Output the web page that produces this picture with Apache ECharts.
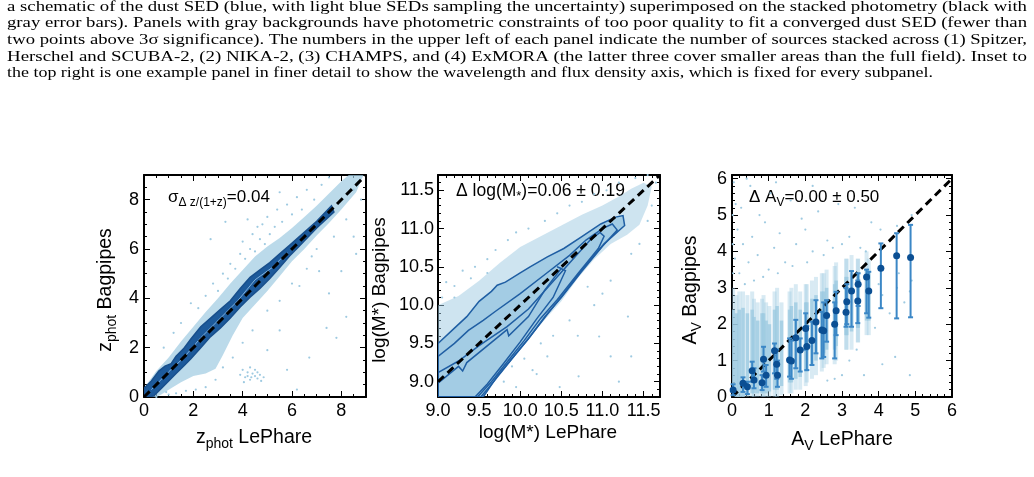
<!DOCTYPE html>
<html>
<head>
<meta charset="utf-8">
<script src="https://cdn.jsdelivr.net/npm/echarts@6/dist/echarts.min.js"></script>
<style>
  html, body { margin: 0; padding: 0; background: #fff; }
  #main { width: 1034px; height: 477px; }
</style>
</head>
<body>
<div id="main"></div>
<script>
// caption lines shown above the figure
var captionLines = [
  'a schematic of the dust SED (blue, with light blue SEDs sampling the uncertainty) superimposed on the stacked photometry (black with',
  'gray error bars). Panels with gray backgrounds have photometric constraints of too poor quality to fit a converged dust SED (fewer than',
  'two points above 3σ significance). The numbers in the upper left of each panel indicate the number of sources stacked across (1) Spitzer,',
  'Herschel and SCUBA-2, (2) NIKA-2, (3) CHAMPS, and (4) ExMORA (the latter three cover smaller areas than the full field). Inset to',
  'the top right is one example panel in finer detail to show the wavelength and flux density axis, which is fixed for every subpanel.'
]

// ---- panel 1 : z_phot ----
var zDiag = [[0, 0], [9, 9]]
// outline of the dense light blue cloud
var zCloud = [
  [0, 0], [0, 0.35], [0.5, 1.05], [1, 1.6], [1.5, 2.25], [2, 2.85], [2.5, 3.45], [3, 4.0], [3.5, 4.6],
  [4, 5.15], [4.5, 5.7], [5, 6.1], [5.5, 6.45], [6, 6.85], [6.5, 7.3], [7, 7.75], [7.5, 8.25], [8, 8.75],
  [8.3, 9], [8.9, 9], [8.6, 8.3], [8, 7.6], [7.5, 7.05], [7, 6.55], [6.5, 6.0], [6, 5.5], [5.5, 4.9],
  [5, 4.3], [4.5, 3.75], [4, 3.2], [3.6, 2.5], [3.2, 1.7], [2.9, 1.15], [2.5, 0.95], [2, 0.85],
  [1.5, 0.6], [1.1, 0.35], [0.7, 0.1], [0.5, 0]
]
// dark contour band
var zBandTop = [
  [0, 0.35], [0.3, 0.65], [0.6, 1.05], [0.85, 1.25], [1.1, 1.35], [1.3, 1.65], [1.6, 1.95], [1.9, 2.35],
  [2.3, 2.85], [2.7, 3.2], [3.1, 3.55], [3.5, 3.9], [3.9, 4.4], [4.3, 4.85], [4.7, 5.15], [5.1, 5.45],
  [5.5, 5.8], [5.9, 6.15], [6.3, 6.5], [7.0, 7.12], [7.6, 7.75]
]
var zBandBottom = [
  [7.7, 7.5], [7.0, 6.85], [6.3, 6.12], [5.9, 5.72], [5.5, 5.25], [5.1, 4.8], [4.7, 4.4], [4.3, 4.05],
  [3.9, 3.65], [3.5, 3.2], [3.1, 2.8], [2.7, 2.45], [2.3, 2.0], [1.9, 1.55], [1.6, 1.25], [1.3, 0.95],
  [1.0, 0.65], [0.7, 0.35], [0.4, 0.05], [0.2, 0], [0, 0]
]
var zBandInner = [[0.3, 0.3], [1, 1.02], [1.6, 1.58], [2.3, 2.4], [3, 3.1], [3.8, 3.9], [4.5, 4.75], [5.2, 5.25], [5.8, 5.85]]
var zScatter = [
  [2.2, 3.6], [2.5, 4.1], [2.8, 4.6], [3.0, 4.3], [3.2, 5.0], [3.4, 4.8], [3.5, 5.4], [3.7, 5.2], [3.9, 5.8],
  [4.0, 6.3], [4.1, 5.6], [4.3, 6.0], [4.4, 6.6], [4.5, 5.9], [4.6, 6.9], [4.7, 6.4], [4.8, 7.0], [4.9, 6.2],
  [5.0, 7.3], [5.1, 6.6], [5.3, 6.9], [5.4, 7.6], [5.6, 7.1], [5.8, 7.8], [6.0, 7.4], [6.2, 8.1], [6.4, 7.6],
  [6.6, 8.4], [6.9, 8.0], [7.2, 8.6], [7.5, 8.9], [2.7, 6.4], [3.3, 7.1], [4.2, 7.2], [5.5, 8.3],
  [1.9, 3.8], [1.5, 3.0], [1.2, 2.6], [0.8, 2.0], [5.0, 3.5], [5.5, 3.9], [6.0, 4.6], [6.3, 4.5], [6.6, 5.2],
  [7.1, 5.1], [7.5, 4.2], [7.4, 2.8], [7.8, 2.4], [6.7, 1.6], [5.5, 2.7], [5.0, 1.9], [5.8, 1.1], [4.4, 2.7],
  [4.0, 2.2], [3.6, 1.6], [3.2, 1.2], [2.9, 0.7], [2.5, 0.4], [6.2, 0.3], [8.0, 5.1], [8.6, 5.8], [8.2, 3.25],
  [8.5, 6.5], [8.8, 8.0], [8.5, 8.4], [8.2, 7.2], [7.7, 6.5], [7.0, 6.0], [6.8, 5.7],
  [3.9, 0.9], [4.0, 1.1], [4.1, 0.8], [4.2, 1.0], [4.3, 0.7], [4.4, 0.95], [4.5, 0.85], [4.5, 1.1], [4.6, 0.75],
  [4.7, 0.9], [4.75, 0.65], [4.3, 1.2], [4.05, 0.6], [4.85, 0.8], [4.2, 0.85], [4.6, 1.0], [4.35, 0.8],
  [0.5, 0.0], [0.9, 0.2], [1.3, 0.15], [1.7, 0.25], [2.1, 0.3], [1.0, 0.1]
]

// ---- panel 2 : stellar mass ----
var mDiag = [[9, 9], [11.7, 11.7]]
var mTicks = [9.0, 9.5, 10.0, 10.5, 11.0, 11.5]
var mCloud = [
  [9.0, 10.0], [9.25, 10.12], [9.5, 10.32], [9.75, 10.55], [10.0, 10.76], [10.25, 10.9], [10.5, 11.04],
  [10.75, 11.18], [11.0, 11.3], [11.2, 11.42], [11.35, 11.52], [11.5, 11.6], [11.6, 11.55], [11.55, 11.3],
  [11.45, 11.05], [11.3, 10.92], [11.1, 10.8], [10.9, 10.6], [10.7, 10.35], [10.5, 10.05], [10.25, 9.75],
  [10.0, 9.45], [9.75, 9.13], [9.55, 8.8], [9.0, 8.8]
]
var mContour1 = [
  [9.0, 9.5], [9.2, 9.7], [9.35, 9.85], [9.5, 10.05], [9.65, 10.18], [9.72, 10.26], [9.82, 10.3], [10.0, 10.42],
  [10.12, 10.5], [10.33, 10.63], [10.53, 10.74], [10.74, 10.89], [10.98, 11.06], [11.16, 11.15], [11.25, 11.17],
  [11.27, 11.04], [11.02, 10.8], [10.74, 10.45], [10.53, 10.15], [10.33, 9.88], [10.12, 9.59], [9.92, 9.33],
  [9.72, 9.07], [9.55, 8.8], [9.0, 8.8]
]
var mContour2 = [
  [9.0, 9.33], [9.2, 9.5], [9.37, 9.67], [9.55, 9.8], [9.7, 9.92], [10.0, 10.15], [10.3, 10.4], [10.6, 10.65],
  [10.8, 10.85], [11.0, 11.0], [11.12, 11.06], [11.18, 10.98], [11.0, 10.77], [10.74, 10.43], [10.5, 10.1],
  [10.3, 9.85], [10.1, 9.56], [9.9, 9.3], [9.7, 9.03], [9.52, 8.8], [9.0, 8.8]
]
var mContour3 = [
  [9.0, 9.12], [9.25, 9.27], [9.5, 9.47], [9.84, 9.72], [10.1, 9.95], [10.35, 10.25], [10.6, 10.55],
  [10.85, 10.85], [10.97, 10.95], [11.02, 10.9], [10.95, 10.74], [10.7, 10.41], [10.45, 10.07], [10.25, 9.83],
  [10.05, 9.54], [9.85, 9.27], [9.65, 9.0], [9.48, 8.8], [9.0, 8.8]
]
var mContour4 = [
  [9.0, 8.98], [9.25, 9.2], [9.3, 9.14], [9.35, 9.25], [9.84, 9.68], [9.86, 9.6], [10.1, 9.85], [10.3, 10.2],
  [10.5, 10.48], [10.45, 10.5], [10.55, 10.45], [10.4, 10.1], [10.2, 9.82], [10.0, 9.52], [9.8, 9.24],
  [9.6, 8.97], [9.45, 8.8], [9.0, 8.8]
]
var mScatter = [
  [9.05, 10.1], [9.1, 10.3], [9.2, 10.25], [9.3, 10.45], [9.45, 10.5], [9.6, 10.6], [9.7, 10.72], [9.85, 10.85],
  [9.95, 10.95], [10.1, 11.0], [10.3, 11.1], [10.45, 11.2], [10.6, 11.3], [10.75, 11.35], [10.9, 11.45],
  [11.05, 11.5], [11.2, 11.6], [11.4, 11.66], [11.55, 11.7], [11.65, 11.6], [11.6, 11.3], [11.55, 11.1],
  [11.35, 10.67], [11.31, 9.85], [11.2, 9.0], [11.1, 10.32], [10.82, 10.24], [10.96, 9.59], [10.71, 9.07],
  [11.35, 9.33], [11.1, 9.33], [10.33, 9.33], [10.15, 9.15], [9.95, 8.93], [10.48, 8.93], [10.6, 9.8],
  [10.9, 10.0], [10.4, 9.6], [10.25, 9.5], [10.7, 9.6], [11.0, 10.15], [11.45, 10.8], [9.9, 9.2], [10.05, 9.3],
  [9.8, 9.0], [10.2, 9.1], [10.55, 10.35], [9.4, 10.35], [9.6, 10.42], [9.2, 10.1]
]

// ---- panel 3 : A_V ----
var avDiag = [[0, 0], [6, 6]]
var avColX = [0.03, 0.12, 0.2, 0.3, 0.42, 0.55, 0.6, 0.7, 0.82, 0.86, 0.93, 1.02, 1.16, 1.23, 1.35, 1.57, 1.62,
  1.74, 1.86, 2.01, 2.04, 2.18, 2.29, 2.45, 2.5, 2.58, 2.8, 2.84, 3.11, 3.13, 3.26, 3.43, 3.44, 3.67, 3.73]
var avHaloLo = [0, 0, 0, 0, 0, 0, 0, 0, 0, 0, 0, 0, 0, 0, 0.05, 0.1, 0.1, 0.2, 0.2, 0.3, 0.4, 0.5, 0.6, 0.7,
  0.8, 0.9, 0.9, 1.0, 1.3, 1.3, 1.3, 1.5, 1.5, 1.7, 1.7]
var avHaloHi = [3.0, 2.8, 2.9, 2.9, 2.8, 2.9, 2.7, 2.6, 2.7, 2.8, 2.6, 2.5, 2.9, 3.0, 2.6, 2.9, 3.0, 3.1, 2.9,
  3.1, 3.1, 3.2, 3.3, 3.4, 3.4, 3.5, 3.6, 3.7, 3.8, 3.8, 3.9, 3.8, 3.8, 4.0, 3.8]
var avCoreLo = [0, 0, 0, 0, 0.05, 0.1, 0.1, 0.1, 0.1, 0.15, 0.1, 0.15, 0.2, 0.2, 0.3, 0.4, 0.4, 0.5, 0.55, 0.7,
  0.7, 0.9, 1.0, 1.1, 1.2, 1.3, 1.3, 1.4, 1.7, 1.7, 1.8, 1.9, 1.9, 2.1, 2.1]
var avCoreHi = [2.4, 2.3, 2.4, 2.45, 2.3, 2.4, 2.2, 2.1, 2.3, 2.3, 2.1, 2.0, 2.4, 2.5, 2.1, 2.4, 2.5, 2.6, 2.4,
  2.6, 2.6, 2.7, 2.8, 2.9, 2.9, 3.0, 3.1, 3.2, 3.3, 3.3, 3.4, 3.4, 3.4, 3.5, 3.4]
var avBinX = [0.03, 0.3, 0.42, 0.55, 0.6, 0.82, 0.86, 0.93, 1.16, 1.22, 1.24, 1.57, 1.62, 1.74, 1.86, 2.01, 2.04,
  2.18, 2.29, 2.45, 2.5, 2.58, 2.8, 2.84, 3.11, 3.13, 3.26, 3.43, 3.44, 3.67, 3.73, 4.06, 4.49, 4.87]
var avBinY = [0.19, 0.38, 0.28, 0.72, 0.47, 0.39, 1.04, 0.6, 1.27, 0.9, 0.6, 1.02, 0.99, 1.63, 1.29, 1.88, 1.39,
  1.55, 2.06, 1.84, 1.82, 2.24, 2.0, 2.37, 2.33, 2.62, 2.91, 2.64, 3.1, 3.3, 2.91, 3.54, 3.88, 3.83]
var avBinLo = [0.05, 0.14, 0.08, 0.42, 0.24, 0.19, 0.7, 0.28, 0.65, 0.5, 0.28, 0.56, 0.5, 0.79, 0.7, 1.3, 0.74,
  0.88, 1.2, 1.06, 1.1, 1.52, 1.06, 1.7, 1.93, 2.0, 1.93, 2.03, 2.5, 2.3, 2.18, 2.44, 2.16, 2.19]
var avBinHi = [0.35, 0.54, 0.42, 0.97, 0.79, 0.6, 1.38, 0.88, 1.47, 1.3, 1.0, 1.61, 1.55, 2.12, 1.61, 2.3, 1.95,
  2.07, 2.66, 2.34, 2.6, 2.66, 2.6, 2.89, 2.99, 3.1, 3.46, 3.2, 3.4, 3.5, 3.44, 4.22, 4.5, 4.73]
var avScatter = [
  [0.05, 5.9], [0.1, 5.3], [0.15, 4.6], [0.08, 3.8], [0.2, 3.4], [0.25, 5.2], [0.3, 4.2], [0.35, 3.1], [0.45, 3.7],
  [0.5, 5.8], [0.55, 4.4], [0.6, 3.2], [0.7, 3.9], [0.75, 5.0], [0.85, 3.3], [0.9, 4.8], [1.0, 3.5], [1.05, 5.6],
  [1.15, 4.1], [1.25, 3.4], [1.3, 4.5], [1.45, 3.7], [1.6, 5.4], [1.65, 3.6], [1.75, 4.2], [1.9, 4.9], [2.0, 4.6],
  [2.05, 3.7], [2.2, 4.0], [2.35, 5.1], [2.5, 3.9], [2.6, 4.3], [2.75, 4.1], [2.9, 5.3], [3.0, 4.2], [3.2, 4.4],
  [3.35, 5.2], [3.5, 4.1], [3.65, 4.0], [3.8, 4.8], [4.05, 4.6], [4.1, 0.9], [4.45, 1.1], [4.5, 4.7], [4.85, 0.6],
  [4.9, 5.0], [3.6, 0.6], [3.2, 1.0], [3.0, 0.6], [2.8, 0.5], [2.6, 0.45], [3.4, 1.3], [3.9, 1.9], [4.3, 2.3],
  [4.7, 2.6], [4.0, 3.1], [4.5, 3.0], [4.9, 3.2], [4.1, 2.8], [4.55, 3.4], [4.85, 2.9], [1.2, 5.9], [0.4, 6.0],
  [2.2, 5.8], [0.02, 4.2], [0.02, 5.0], [0.03, 3.4]
]

var SANS = '"Liberation Sans", Arial, sans-serif'
var LIGHT = '#9ecae1'

function frameAxis(grid, pos, min, max, step, minor, labels) {
  return {
    type: 'value', gridIndex: grid, position: pos, min: min, max: max, interval: step,
    axisLine: { show: true, onZero: false, lineStyle: { color: '#000', width: 2 } },
    axisTick: { show: true, inside: true, length: 6, lineStyle: { color: '#000', width: 1 } },
    minorTick: { show: minor > 0, splitNumber: minor || 5, length: 3, lineStyle: { color: '#000', width: 1 } },
    splitLine: { show: false },
    axisLabel: { show: labels, color: '#000', fontSize: 18, fontFamily: SANS, margin: 5, showMaxLabel: false }
  }
}

function area(xi, yi, pts, fill, stroke, lw, z) {
  return {
    type: 'custom', xAxisIndex: xi, yAxisIndex: yi, z: z, silent: true, clip: true,
    data: [pts[0]], encode: { x: 0, y: 1 },
    renderItem: function (params, api) {
      return {
        type: 'polygon',
        shape: { points: pts.map(function (p) { return api.coord(p) }) },
        style: { fill: fill || 'none', stroke: stroke || 'none', lineWidth: lw || 0 }
      }
    }
  }
}

function dots(xi, yi, data, z) {
  return { type: 'scatter', xAxisIndex: xi, yAxisIndex: yi, data: data, symbolSize: 2.2, z: z, silent: true,
    itemStyle: { color: LIGHT, opacity: 1 } }
}

function diag(xi, yi, data) {
  return { type: 'line', xAxisIndex: xi, yAxisIndex: yi, data: data, symbol: 'none', z: 6, silent: true, clip: true,
    lineStyle: { color: '#000', width: 3, type: [8, 5] } }
}

function columns(lo, hi, w, fill, z) {
  return {
    type: 'custom', xAxisIndex: 4, yAxisIndex: 4, z: z, silent: true, clip: true,
    data: avColX.map(function (x, i) { return [x, lo[i], hi[i]] }),
    encode: { x: 0, y: [1, 2] },
    renderItem: function (params, api) {
      var a = api.coord([api.value(0), api.value(2)])
      var b = api.coord([api.value(0), api.value(1)])
      return { type: 'rect', shape: { x: a[0] - w / 2, y: a[1], width: w, height: b[1] - a[1] }, style: { fill: fill } }
    }
  }
}

function label(text, x, y, size, rot, align) {
  return {
    type: 'text', x: x, y: y, rotation: rot || 0, silent: true,
    style: {
      text: text, align: align || 'center', verticalAlign: 'middle',
      rich: {
        m: { fontSize: size, fontFamily: SANS, fill: '#000', color: '#000', lineHeight: size + 6 },
        s: { fontSize: Math.round(size * 0.72), fontFamily: SANS, fill: '#000', color: '#000',
          lineHeight: Math.round(size * 0.8), verticalAlign: 'bottom' }
      }
    }
  }
}

// caption: one text per line, stretched to the justified width
function captionGraphics() {
  var fam = '"Liberation Serif", "DejaVu Serif", serif'
  var fs = 14
  var ctx = document.createElement('canvas').getContext('2d')
  ctx.font = fs + 'px ' + fam
  return captionLines.map(function (line, i) {
    var target = i === captionLines.length - 1 ? 926 : 1020
    return {
      type: 'text', x: 7, y: 7 + i * 16.7, scaleX: target / ctx.measureText(line).width, silent: true,
      style: { text: line, fontSize: fs, fontFamily: fam, fill: '#000', align: 'left', verticalAlign: 'middle' }
    }
  })
}

var massLeft = frameAxis(1, 'left', 8.8, 11.7, 0.1, 0, true)
massLeft.axisTick.length = 3
massLeft.axisLabel.customValues = mTicks
massLeft.axisLabel.showMaxLabel = true
massLeft.axisLabel.formatter = function (v) { return v.toFixed(1) }
massLeft.axisLabel.margin = 4
var massRight = frameAxis(1, 'right', 8.8, 11.7, 0.1, 0, false)
massRight.axisTick.length = 3
var massLeftMajor = frameAxis(1, 'left', 8.8, 11.7, 0.1, 0, false)
massLeftMajor.axisLine.show = false
massLeftMajor.axisTick.customValues = mTicks
var massRightMajor = frameAxis(1, 'right', 8.8, 11.7, 0.1, 0, false)
massRightMajor.axisLine.show = false
massRightMajor.axisTick.customValues = mTicks

var massBottom = frameAxis(1, 'bottom', 9, 11.7, 0.5, 5, true)
massBottom.axisLabel.formatter = function (v) { return v.toFixed(1) }
var avBottom = frameAxis(2, 'bottom', 0, 6, 1, 5, true)
avBottom.axisLabel.showMaxLabel = true

var option = {
  animation: false,
  backgroundColor: '#fff',
  grid: [
    { left: 144, top: 175, width: 222, height: 222, outerBoundsMode: 'none' },
    { left: 438, top: 175, width: 222, height: 222, outerBoundsMode: 'none' },
    { left: 732, top: 175, width: 220, height: 222, outerBoundsMode: 'none' }
  ],
  xAxis: [
    frameAxis(0, 'bottom', 0, 9, 2, 4, true),
    frameAxis(0, 'top', 0, 9, 2, 4, false),
    massBottom,
    frameAxis(1, 'top', 9, 11.7, 0.5, 5, false),
    avBottom,
    frameAxis(2, 'top', 0, 6, 1, 5, false)
  ],
  yAxis: [
    frameAxis(0, 'left', 0, 9, 2, 4, true),
    frameAxis(0, 'right', 0, 9, 2, 4, false),
    massLeft,
    massRight,
    frameAxis(2, 'left', 0, 6.1, 1, 5, true),
    frameAxis(2, 'right', 0, 6.1, 1, 5, false),
    massLeftMajor,
    massRightMajor
  ],
  series: [
    // panel 1
    area(0, 0, zCloud, 'rgba(158,202,225,0.7)', null, 0, 1),
    dots(0, 0, zScatter, 2),
    area(0, 0, zBandTop.concat(zBandBottom), '#1d5a9b', '#184f8c', 1.5, 3),
    { type: 'line', xAxisIndex: 0, yAxisIndex: 0, data: zBandInner, symbol: 'none', z: 4, silent: true,
      lineStyle: { color: '#7fb0da', width: 1 } },
    diag(0, 0, zDiag),
    // panel 2
    area(2, 2, mCloud, 'rgba(158,202,225,0.5)', null, 0, 1),
    dots(2, 2, mScatter, 2),
    area(2, 2, mContour1, '#a3cce4', '#1f5ea3', 1.5, 3),
    area(2, 2, mContour2, null, '#1f5ea3', 1.5, 4),
    area(2, 2, mContour3, null, '#1f5ea3', 1.5, 4),
    area(2, 2, mContour4, null, '#1f5ea3', 1.5, 4),
    diag(2, 2, mDiag),
    // panel 3
    columns(avHaloLo, avHaloHi, 4, 'rgba(158,202,225,0.4)', 1),
    columns(avCoreLo, avCoreHi, 3.5, 'rgba(158,202,225,0.8)', 2),
    dots(4, 4, avScatter, 2),
    diag(4, 4, avDiag),
    {
      type: 'custom', xAxisIndex: 4, yAxisIndex: 4, z: 7, silent: true,
      data: avBinX.map(function (x, i) { return [x, avBinLo[i], avBinHi[i]] }),
      encode: { x: 0, y: [1, 2] },
      renderItem: function (params, api) {
        var t = api.coord([api.value(0), api.value(2)])
        var b = api.coord([api.value(0), api.value(1)])
        var s = { stroke: '#3b87c6', lineWidth: 2 }
        return { type: 'group', children: [
          { type: 'line', shape: { x1: t[0], y1: t[1], x2: b[0], y2: b[1] }, style: s },
          { type: 'line', shape: { x1: t[0] - 2.5, y1: t[1], x2: t[0] + 2.5, y2: t[1] }, style: s },
          { type: 'line', shape: { x1: b[0] - 2.5, y1: b[1], x2: b[0] + 2.5, y2: b[1] }, style: s }
        ] }
      }
    },
    { type: 'scatter', xAxisIndex: 4, yAxisIndex: 4, z: 8, silent: true, symbolSize: 7,
      data: avBinX.map(function (x, i) { return [x, avBinY[i]] }),
      itemStyle: { color: '#0b4f93', opacity: 1 } }
  ],
  graphic: {
    elements: captionGraphics().concat([
      label('{m|σ}{s|Δ z/(1+z)}{m|=0.04}', 168, 197, 17, 0, 'left'),
      label('{m|Δ log(M}{s|*}{m|)=0.06 ± 0.19}', 456, 191, 17.5, 0, 'left'),
      label('{m|Δ A}{s|V}{m|=0.00 ± 0.50}', 749, 197, 17, 0, 'left'),
      label('{m|z}{s|phot}{m| LePhare}', 254, 438, 19.5),
      label('{m|log(M*) LePhare}', 548, 433, 19),
      label('{m|A}{s|V}{m| LePhare}', 842, 440, 19.5),
      label('{m|z}{s|phot}{m| Bagpipes}', 106, 290, 19.5, Math.PI / 2),
      label('{m|log(M*) Bagpipes}', 380, 290, 19, Math.PI / 2),
      label('{m|A}{s|V}{m| Bagpipes}', 691, 290, 19.5, Math.PI / 2)
    ])
  }
}

var myChart = echarts.init(document.getElementById('main'))
myChart.setOption(option)
</script>
</body>
</html>
